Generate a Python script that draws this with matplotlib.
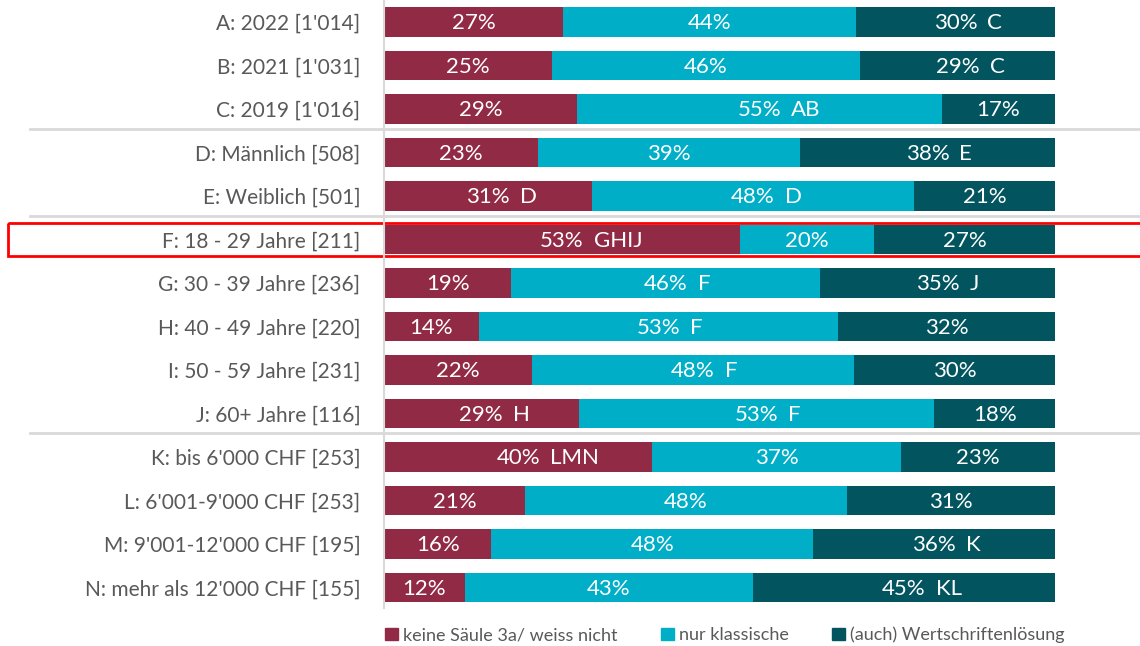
import matplotlib.pyplot as plt
import matplotlib.transforms as mtransforms
from matplotlib.patches import Rectangle, Patch
import numpy as np

plt.rcParams['font.family'] = ['Lato', 'DejaVu Sans']

# data
categories = ["A: 2022 [1'014]", "B: 2021 [1'031]", "C: 2019 [1'016]",
              "D: Männlich [508]", "E: Weiblich [501]",
              "F: 18 - 29 Jahre [211]", "G: 30 - 39 Jahre [236]",
              "H: 40 - 49 Jahre [220]", "I: 50 - 59 Jahre [231]",
              "J: 60+ Jahre [116]",
              "K: bis 6'000 CHF [253]", "L: 6'001-9'000 CHF [253]",
              "M: 9'001-12'000 CHF [195]", "N: mehr als 12'000 CHF [155]"]
keine = [27, 25, 29, 23, 31, 53, 19, 14, 22, 29, 40, 21, 16, 12]
klassisch = [44, 46, 55, 39, 48, 20, 46, 53, 48, 53, 37, 48, 48, 43]
wertschrift = [30, 29, 17, 38, 21, 27, 35, 32, 30, 18, 23, 31, 36, 45]
# significance letters per segment
sig_keine = ["", "", "", "", "D", "GHIJ", "", "", "", "H", "LMN", "", "", ""]
sig_klass = ["", "", "AB", "", "D", "", "F", "F", "F", "F", "", "", "", ""]
sig_wert = ["C", "C", "", "E", "", "", "J", "", "", "", "", "", "K", "KL"]
series_names = ["keine Säule 3a/ weiss nicht", "nur klassische", "(auch) Wertschriftenlösung"]
colors = ["#912B45", "#00AEC7", "#02555F"]
separators = [2.45, 4.45, 9.45]
highlight = 5

vals = np.array([keine, klassisch, wertschrift], dtype=float)
shares = vals / vals.sum(axis=0) * 100

fig = plt.figure(figsize=(11.4, 6.46), dpi=100)
ax = fig.add_axes([384 / 1140, 38 / 646, 756 / 1140, 608 / 646])

y = np.arange(len(categories))
left = np.zeros(len(categories))
sigs = [sig_keine, sig_klass, sig_wert]
for k in range(3):
    ax.barh(y, shares[k], left=left, height=0.67, color=colors[k], label=series_names[k])
    for i in range(len(categories)):
        cx = left[i] + shares[k][i] / 2
        ax.text(cx, y[i] + 0.03, f"{vals[k][i]:.0f}%", ha="center", va="center",
                color="white", fontsize=16)
        if sigs[k][i]:
            ax.annotate(sigs[k][i], (cx, y[i] + 0.03), xytext=(23, 0), textcoords="offset points",
                        ha="left", va="center", color="white", fontsize=16)
    left += shares[k]

ax.set_xlim(0, 100 * 756 / 671)
ax.set_ylim((608 - 22) / 43.5, -22 / 43.5)
ax.set_yticks(y)
ax.set_yticklabels(categories, fontsize=15, color="#595959")
ax.tick_params(axis="y", length=0, pad=17)
ax.set_xticks([])
for s in ["top", "right", "bottom"]:
    ax.spines[s].set_visible(False)
ax.spines["left"].set_color("#d9d9d9")
ax.spines["left"].set_linewidth(1.5)

trans = mtransforms.blended_transform_factory(fig.transFigure, ax.transData)
for sp in separators:
    ax.plot([30 / 1140, 1.0], [sp, sp], transform=trans, color="#d9d9d9",
            lw=2, clip_on=False)

rect = Rectangle((8 / 1140, highlight - 0.39), 1.0, 0.78, transform=trans,
                 fill=False, edgecolor="red", lw=2, clip_on=False)
ax.add_patch(rect)

handles = [Patch(color=c) for c in colors]
fig.legend(handles, series_names, loc="center", bbox_to_anchor=(0.636, 0.017),
           ncol=3, frameon=False, fontsize=13, handlelength=0.7, handleheight=0.7,
           handletextpad=0.3, columnspacing=2.4, labelcolor="#595959")

fig.savefig("out.png", dpi=100)
